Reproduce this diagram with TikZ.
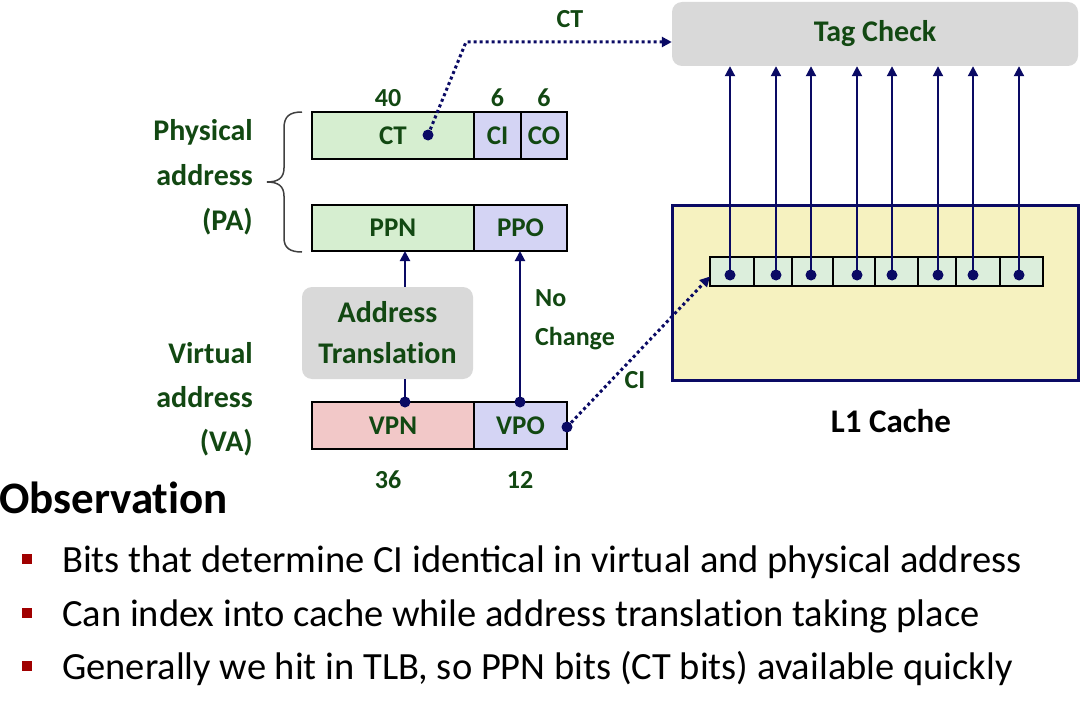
\documentclass[tikz,border=0pt]{standalone}
\usepackage{fontspec}
\setmainfont{Carlito}
\usetikzlibrary{arrows.meta,positioning}

\definecolor{labelgreen}{RGB}{18,72,18}
\definecolor{navyline}{RGB}{10,10,100}
\definecolor{ctgreen}{RGB}{214,238,208}
\definecolor{ciblue}{RGB}{212,212,244}
\definecolor{vpnpink}{RGB}{242,200,200}
\definecolor{cacheyellow}{RGB}{246,242,192}
\definecolor{cellgreen}{RGB}{220,238,220}
\definecolor{boxgray}{RGB}{217,217,217}
\definecolor{bulletred}{RGB}{160,0,0}

% keeps t and i apart (no ligature)
\newcommand\tisep{t\kern0pt i}

\tikzset{
  field/.style={draw, line width=1.5pt, minimum height=47pt, inner sep=0pt,
    outer sep=0pt, text=labelgreen, font=\bfseries\fontsize{27}{30}\selectfont},
  numlabel/.style={text=labelgreen, inner sep=0pt,
    font=\bfseries\fontsize{26}{39}\selectfont},
  biglabel/.style={text=labelgreen, inner sep=0pt,
    font=\bfseries\fontsize{30}{41}\selectfont},
  graybox/.style={fill=boxgray, rounded corners=10pt},
  cell/.style={draw, line width=1.5pt, fill=cellgreen, minimum height=29pt,
    inner sep=0pt, outer sep=0pt},
  wire/.style={navyline, line width=2pt},
  dotline/.style={navyline, line width=3pt, dash pattern=on 3pt off 3pt},
  arrowhead/.style={-{Triangle[length=10pt,width=10pt]}},
  joint/.style={circle, fill=navyline, inner sep=0pt, minimum size=11pt},
  bulletbox/.style={fill=bulletred, minimum size=10pt, inner sep=0pt},
  bullettext/.style={anchor=base west, inner sep=0pt,
    font=\fontsize{38.5}{44}\selectfont}
}

\begin{document}
\begin{tikzpicture}[x=1pt, y=-1pt]
  \useasboundingbox (0,0) rectangle (1080,701);

  %% tag check and cache
  \node[graybox, biglabel, minimum width=406pt, minimum height=64pt] (tag) at (875,34) {Tag Check};
  \node[draw=navyline, line width=3pt, fill=cacheyellow, minimum width=406pt,
    minimum height=175pt] (cache) at (875,292.5) {};
  \node[font=\bfseries\fontsize{33}{36}\selectfont, inner sep=0pt] (l1) at (891,421) {L1 Cache};

  \foreach \l/\r/\d [count=\i] in {710/754/730, 754/792/776, 792/833/811, 833/875/857,
      875/918/892, 918/956/938, 956/1000/973, 1000/1043/1019}
  {
    \node[cell, minimum width={(\r-\l)*1pt}] (cell\i) at ({(\l+\r)/2},271.5) {};
    \node[joint] (d\i) at (\d,275) {};
    \draw[wire, arrowhead] (d\i.center) -- (d\i |- tag.south);
  }

  %% physical address
  \node[field, fill=ctgreen, minimum width=162pt] (ct) at (393,135.5) {CT};
  \node[field, fill=ciblue, minimum width=47pt, right=0pt of ct] (ci) {CI};
  \node[field, fill=ciblue, minimum width=46pt, right=0pt of ci] (co) {CO};
  \node[field, fill=ctgreen, minimum width=162pt, minimum height=46pt] (ppn) at (393,228) {PPN};
  \node[field, fill=ciblue, minimum width=93pt, minimum height=46pt, right=0pt of ppn] (ppo) {PPO};

  \node[numlabel] (n40) at (388,98) {40};
  \node[numlabel] (n6a) at (497.5,98) {6};
  \node[numlabel] (n6b) at (544,98) {6};

  \node[biglabel, anchor=base east] (pa1) at (253,140) {Physical};
  \node[biglabel, anchor=base east] (pa2) at (253,185) {address};
  \node[biglabel, anchor=base east] (pa3) at (253,230) {(PA)};
  \draw[line width=1.5pt, black!75] (302,112) .. controls (290,112) and (284,116) .. (284,128)
    -- (284,168) .. controls (284,178) and (278,182) .. (267,182)
    .. controls (278,182) and (284,186) .. (284,196)
    -- (284,238) .. controls (284,248) and (290,252) .. (302,252);

  %% virtual address
  \node[field, fill=vpnpink, minimum width=162pt] (vpn) at (393,425.5) {VPN};
  \node[field, fill=ciblue, minimum width=93pt, right=0pt of vpn] (vpo) {VPO};
  \node[numlabel] (n36) at (388,480) {36};
  \node[numlabel] (n12) at (520,480) {12};

  \node[biglabel, anchor=base east] (va1) at (253,363) {Virtual};
  \node[biglabel, anchor=base east] (va2) at (253,407) {address};
  \node[biglabel, anchor=base east] (va3) at (253,451) {(VA)};

  \node[graybox, biglabel, align=center, minimum width=171pt, minimum height=92pt]
    (xlat) at (387.5,333) {Address\\Transla\tisep on};

  \node[joint] (ctdot) at (428,135) {};
  \node[joint] (vpndot) at (405,402) {};
  \node[joint] (vpodot) at (520,402) {};
  \node[joint] (cidot) at (567,427) {};

  \draw[wire] (vpndot.center) -- (vpndot |- xlat.south);
  \draw[wire, arrowhead] (vpndot |- xlat.north) -- (vpndot |- ppn.south); %% VPN->PPN
  \draw[wire, arrowhead] (vpodot.center) -- (vpodot |- ppo.south); %% VPO->PPO
  \node[numlabel, anchor=west, align=left] (nochange) at (535,320) {No\\Change};

  \coordinate (ctbend) at (466,42);
  \draw[dotline, arrowhead] (ctdot.center) -- (ctbend) -- (ctbend -| tag.west); %% CT->tag
  \node[numlabel] (ctlabel) at (570,19) {CT};
  \draw[dotline, arrowhead] (cidot.center) -- ([yshift=-5pt]cell1.west); %% CI->set
  \node[numlabel] (cilabel) at (635,380) {CI};

  %% observation
  \node[anchor=base west, inner sep=0pt, font=\bfseries\fontsize{45}{50}\selectfont]
    (obs) at (-1,513) {Observa\tisep on};
  \node[bulletbox] (b1) at (27,559) {};
  \node[bullettext] (t1) at (62,572) {Bits that determine CI identical in virtual and physical address};
  \node[bulletbox] (b2) at (27,613) {};
  \node[bullettext] (t2) at (62,626) {Can index into cache while address transla\tisep on taking place};
  \node[bulletbox] (b3) at (27,666) {};
  \node[bullettext] (t3) at (62,679) {Generally we hit in TLB, so PPN bits (CT bits) available quickly};
\end{tikzpicture}
\end{document}
